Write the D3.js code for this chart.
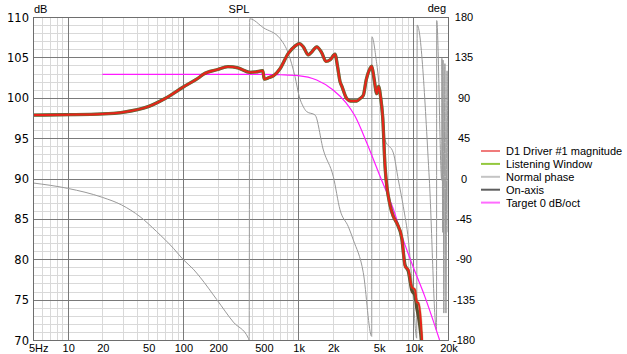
<!DOCTYPE html>
<html>
<head>
<meta charset="utf-8">
<script src="https://cdn.jsdelivr.net/npm/d3@7"></script>
<style>
  html, body { margin: 0; padding: 0; background: #fff; }
  svg { display: block; }
  .lbl { font-family: "Liberation Sans", Arial, sans-serif; font-size: 11px; fill: #000; }
  .lbl-left { font-family: "DejaVu Sans", Verdana, sans-serif; font-size: 11.5px; fill: #000; }
</style>
</head>
<body>
<svg id="chart" width="627" height="354"></svg>
<script>
// axis ticks
const freqTicks = [5, 10, 20, 50, 100, 200, 500, 1000, 2000, 5000, 10000, 20000];
const freqLabels = ["5Hz", "10", "20", "50", "100", "200", "500", "1k", "2k", "5k", "10k", "20k"];
const dbTicks = [70, 75, 80, 85, 90, 95, 100, 105, 110];
const degTicks = [-180, -135, -90, -45, 0, 45, 90, 135, 180];

// D1 Driver #1 magnitude (Hz, dB)
const magFreq = [5, 10, 20, 30, 50, 70, 100, 141, 150, 200, 246, 300, 382, 430, 493, 509, 560, 609, 697, 822, 940, 1025, 1110, 1227, 1300, 1451, 1600, 1746, 1900, 2091, 2200, 2312, 2400, 2640, 2850, 3228, 3450, 3681, 3900, 4200, 4355, 4560, 4814, 4990, 5200, 5430, 5683, 6281, 6709, 7181, 7934, 8472, 9055, 9690, 10350, 10710, 11055, 11602, 11905, 12390];
const magDb = [97.85, 97.9, 98.0, 98.2, 98.9, 99.9, 101.3, 102.6, 102.9, 103.5, 103.85, 103.7, 103.15, 103.2, 103.35, 102.3, 102.5, 102.7, 103.6, 105.5, 106.4, 106.7, 106.3, 105.3, 105.6, 106.3, 105.6, 104.5, 104.7, 105.4, 103.85, 102.0, 101.4, 99.9, 99.6, 99.6, 99.9, 100.3, 102.2, 103.6, 103.9, 102.4, 100.5, 101.4, 100.1, 97.5, 91.5, 86.7, 85.3, 84.5, 82.8, 79.1, 78.7, 76.6, 76.2, 74.7, 74.6, 72.5, 70.0, 67.0];

// On-axis follows the same response, parting a little above 10 kHz
const onFreq = magFreq;
const onDb = [97.85, 97.9, 98.0, 98.2, 98.9, 99.9, 101.3, 102.6, 102.9, 103.5, 103.85, 103.7, 103.15, 103.2, 103.35, 102.3, 102.5, 102.7, 103.6, 105.5, 106.4, 106.7, 106.3, 105.3, 105.6, 106.3, 105.6, 104.5, 104.7, 105.4, 103.85, 102.0, 101.4, 99.9, 99.6, 99.6, 99.9, 100.3, 102.2, 103.6, 103.9, 102.4, 100.5, 101.4, 100.1, 97.5, 91.5, 86.7, 85.3, 84.5, 82.6, 79.3, 78.5, 76.2, 75.5, 74.0, 73.0, 70.8, 69.0, 66.0];

// Listening window overlaps the magnitude curve
const lwFreq = magFreq;
const lwDb = magDb;

// Target 0 dB/oct
const targetFreq = [20, 300, 500, 700, 1000, 1450, 2000, 2600, 3100, 3950, 5100, 6750, 8000, 10000, 12500, 16900];
const targetDb = [102.9, 102.9, 102.9, 102.85, 102.75, 102.2, 101.0, 99.4, 97.8, 94.4, 90.4, 86.1, 82.8, 79.0, 75.5, 70.0];

// Normal phase (Hz, deg), wrapped at +-180
const phaseFreq = [5, 10, 20, 29.4, 42.5, 59, 83, 100, 123, 141, 197, 274, 370, 376, 380, 500, 697, 822, 940, 1025, 1110, 1188, 1402, 1656, 2022, 2312, 2729, 3015, 3681, 4355, 4370, 4814, 5683, 6709, 7415, 8191, 9055, 9950, 10700, 10800, 13770, 15900, 15960, 17650, 17700, 18000, 18100, 18400, 18800, 19200, 19630, 20000];
const phaseDeg = [-5, -11, -21, -29.5, -42.6, -59, -78, -90, -101, -110, -135, -160, -178, -180, 178, 168, 156, 139.5, 113.5, 91, 80, 74.5, 70.8, 31.8, 2, -35, -53.7, -68.5, -105, -176, 158, 128, 43, 28.5, -1.7, -31.4, -68.5, -130, -178, 171, -1, -169, 176, -2, 134, -60, 132, -150, 128, -150, 120, -60];

const legendNames = ["D1 Driver #1 magnitude", "Listening Window", "Normal phase", "On-axis", "Target 0 dB/oct"];
const legendColors = ["#f07b7b", "#93c83e", "#c4c4c4", "#5e5e5e", "#ff6cff"];

const svg = d3.select("#chart");
const plotL = 33, plotR = 448, plotT = 17, plotB = 340;

const x = d3.scaleLog().domain([5, 20000]).range([plotL, plotR]);
const y = d3.scaleLinear().domain([70, 110]).range([plotB, plotT]);
const yPh = d3.scaleLinear().domain([-180, 180]).range([plotB, plotT]);

svg.append("defs").append("clipPath").attr("id", "plot-clip")
  .append("rect").attr("x", plotL).attr("y", plotT).attr("width", plotR - plotL).attr("height", plotB - plotT);

// grid
const minorF = [];
const majorF = [];
[1, 10, 100, 1000, 10000].forEach((d) => {
  for (let m = 1; m <= 9; m++) {
    const f = d * m;
    if (f <= 5 || f >= 20000) continue;
    (m === 1 ? majorF : minorF).push(f);
  }
});
const minorDb = d3.range(71, 110).filter((v) => v % 5 !== 0);

const grid = svg.append("g").attr("shape-rendering", "crispEdges");
grid.selectAll(".vmin").data(minorF).join("line")
  .attr("x1", (d) => Math.round(x(d)) + 0.5).attr("x2", (d) => Math.round(x(d)) + 0.5)
  .attr("y1", plotT).attr("y2", plotB).attr("stroke", "#d9d9d9");
grid.selectAll(".hmin").data(minorDb).join("line")
  .attr("x1", plotL).attr("x2", plotR)
  .attr("y1", (d) => Math.round(y(d)) + 0.5).attr("y2", (d) => Math.round(y(d)) + 0.5)
  .attr("stroke", "#d9d9d9");
grid.selectAll(".vmaj").data(majorF).join("line")
  .attr("x1", (d) => Math.round(x(d)) + 0.5).attr("x2", (d) => Math.round(x(d)) + 0.5)
  .attr("y1", plotT).attr("y2", plotB).attr("stroke", "#7a7a7a");
grid.selectAll(".hmaj").data(dbTicks).join("line")
  .attr("x1", plotL).attr("x2", plotR)
  .attr("y1", (d) => Math.round(y(d)) + 0.5).attr("y2", (d) => Math.round(y(d)) + 0.5)
  .attr("stroke", "#7a7a7a");

// curves
const plot = svg.append("g").attr("clip-path", "url(#plot-clip)");

const toPts = (fs, vs) => fs.map((f, i) => [f, vs[i]]);
const magLine = d3.line().x((d) => x(d[0])).y((d) => y(d[1])).curve(d3.curveMonotoneX);
const phLine = d3.line().x((d) => x(d[0])).y((d) => yPh(d[1])).curve(d3.curveMonotoneX);

plot.append("path").datum(toPts(phaseFreq, phaseDeg))
  .attr("d", phLine).attr("fill", "none").attr("stroke", "#999").attr("stroke-width", 1);
plot.append("path").datum(toPts(targetFreq, targetDb))
  .attr("d", magLine).attr("fill", "none").attr("stroke", "#ff1aff").attr("stroke-width", 1.2);
plot.append("path").datum(toPts(onFreq, onDb))
  .attr("d", magLine).attr("fill", "none").attr("stroke", "#5a4c30").attr("stroke-width", 3.3);
plot.append("path").datum(toPts(lwFreq, lwDb))
  .attr("d", magLine).attr("fill", "none").attr("stroke", "#7da83a").attr("stroke-width", 3).attr("stroke-opacity", 0.4);
plot.append("path").datum(toPts(magFreq, magDb))
  .attr("d", magLine).attr("fill", "none").attr("stroke", "#e8231a").attr("stroke-width", 2);

// border
svg.append("rect").attr("x", plotL + 0.5).attr("y", plotT + 0.5)
  .attr("width", plotR - plotL).attr("height", plotB - plotT)
  .attr("fill", "none").attr("stroke", "#6e6e6e").attr("shape-rendering", "crispEdges");

// left axis labels
svg.append("g").selectAll("text").data(dbTicks).join("text")
  .attr("class", "lbl-left").attr("x", 29).attr("y", (d) => y(d) + 4.5)
  .attr("text-anchor", "end").text((d) => d);

// right axis labels
svg.append("g").selectAll("text").data(degTicks).join("text")
  .attr("class", "lbl").attr("x", 464).attr("y", (d) => yPh(d) + 4)
  .attr("text-anchor", "middle").text((d) => d);

// bottom labels
svg.append("g").selectAll("text").data(freqTicks).join("text")
  .attr("class", "lbl")
  .attr("x", (d, i) => i === 0 ? 29 : x(d) + 1)
  .attr("y", 352)
  .attr("text-anchor", (d, i) => i === 0 ? "start" : "middle")
  .text((d, i) => freqLabels[i]);

// titles
svg.append("text").attr("class", "lbl").attr("x", 34).attr("y", 13).text("dB");
svg.append("text").attr("class", "lbl").attr("x", 239).attr("y", 13).attr("text-anchor", "middle").text("SPL");
svg.append("text").attr("class", "lbl").attr("x", 446).attr("y", 12).attr("text-anchor", "end").text("deg");

// legend
const legend = svg.append("g").selectAll("g").data(legendNames).join("g")
  .attr("transform", (d, i) => `translate(481,${151 + i * 12.9})`);
legend.append("line").attr("x1", 0).attr("x2", 19).attr("y1", 0).attr("y2", 0)
  .attr("stroke", (d, i) => legendColors[i]).attr("stroke-width", 2);
legend.append("text").attr("class", "lbl").attr("x", 25).attr("y", 4).text((d) => d);
</script>
</body>
</html>
